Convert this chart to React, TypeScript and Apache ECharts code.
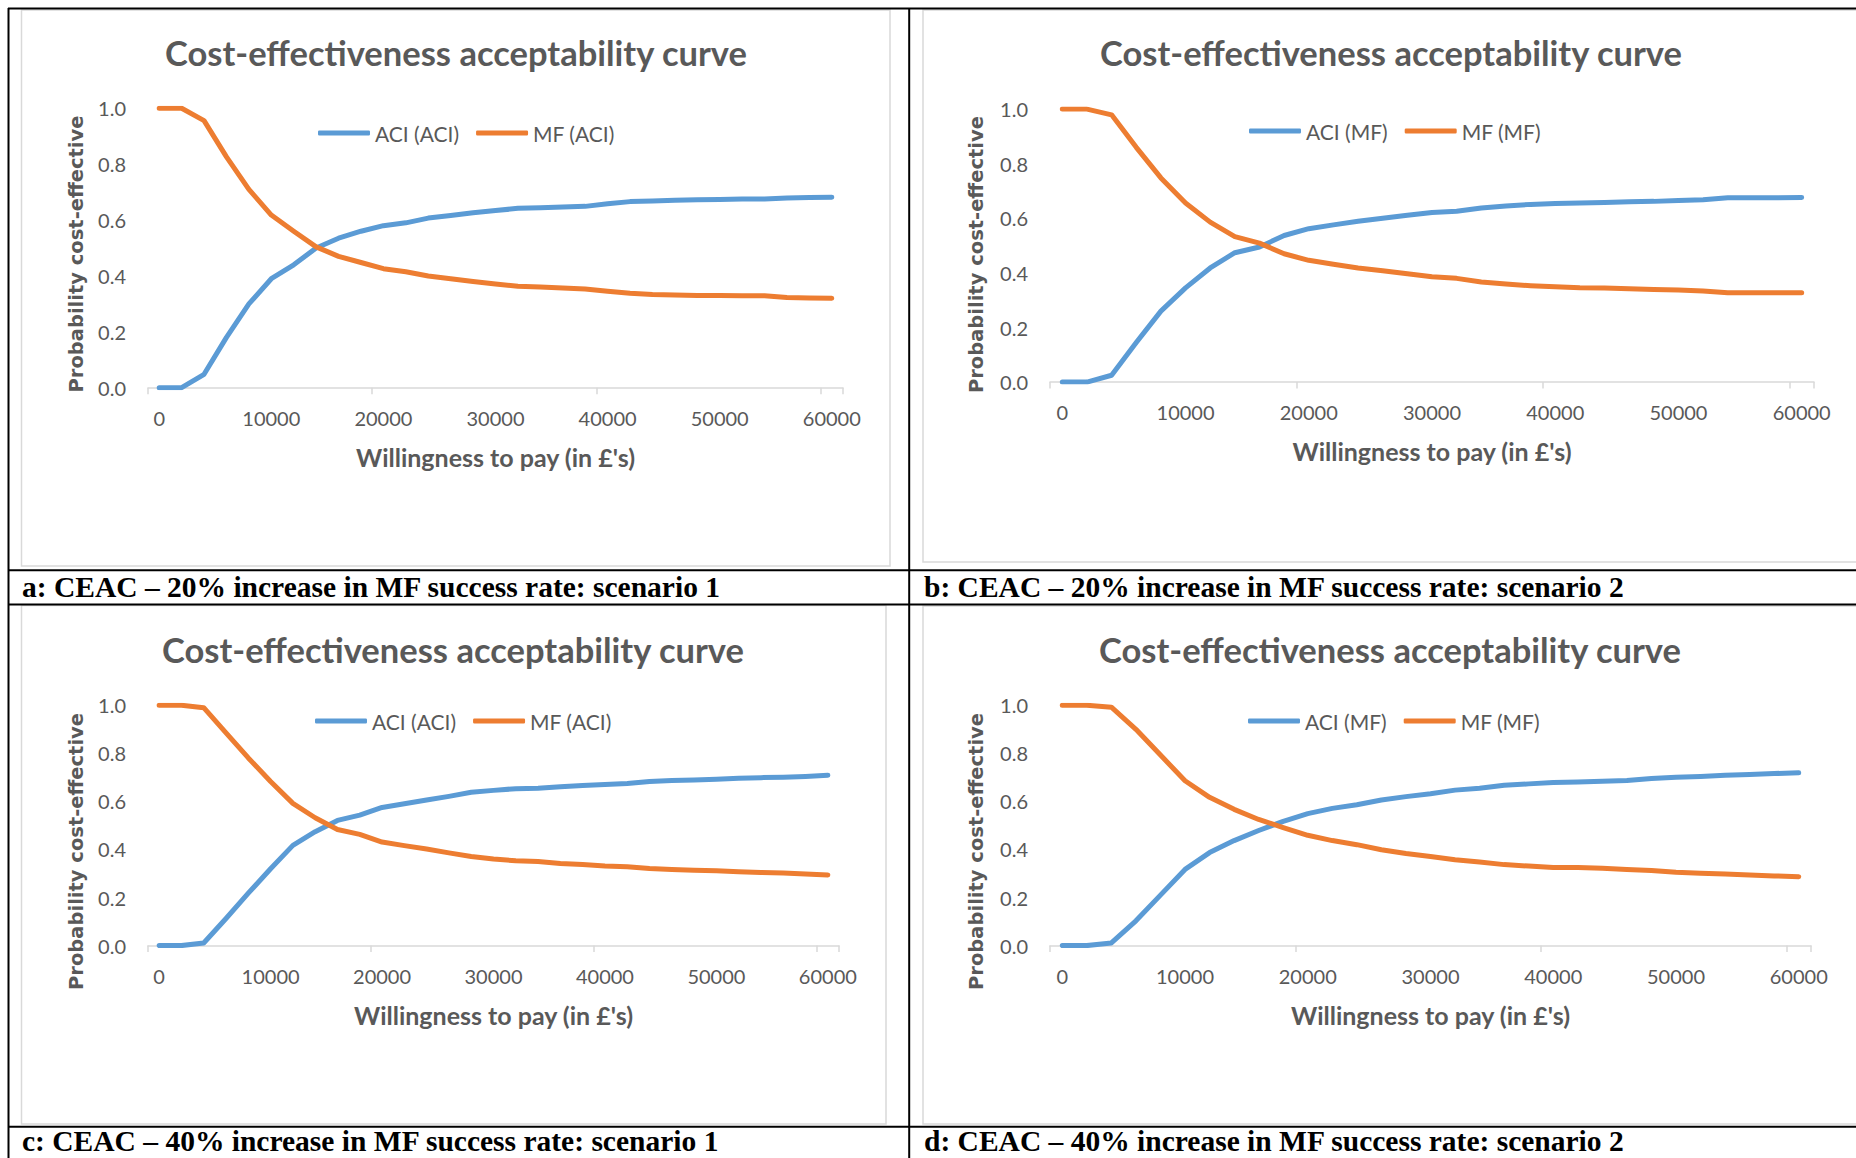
import React, { useEffect, useRef } from "react";
import * as echarts from "echarts";

// Willingness-to-pay categories (£)
const wtp = [
  "0", "2000", "4000", "6000", "8000", "10000", "12000", "14000", "16000", "18000",
  "20000", "22000", "24000", "26000", "28000", "30000", "32000", "34000", "36000", "38000",
  "40000", "42000", "44000", "46000", "48000", "50000", "52000", "54000", "56000", "58000", "60000",
];

const yTicks = [0, 0.2, 0.4, 0.6, 0.8, 1.0];

// a: 20% increase, scenario 1
const aciA = [0, 0, 0.048, 0.18, 0.30, 0.39, 0.44, 0.50, 0.535, 0.56, 0.58, 0.59, 0.607, 0.616, 0.626, 0.634, 0.642, 0.644, 0.647, 0.649, 0.658, 0.666, 0.668, 0.671, 0.673, 0.674, 0.675, 0.675, 0.679, 0.681, 0.682];
const mfA = [1, 1, 0.956, 0.826, 0.71, 0.618, 0.56, 0.504, 0.47, 0.448, 0.426, 0.415, 0.40, 0.39, 0.38, 0.371, 0.363, 0.36, 0.357, 0.353, 0.345, 0.338, 0.334, 0.332, 0.33, 0.33, 0.329, 0.329, 0.323, 0.321, 0.32];
// b: 20% increase, scenario 2
const aciB = [0, 0, 0.025, 0.145, 0.26, 0.345, 0.418, 0.474, 0.495, 0.537, 0.562, 0.576, 0.589, 0.60, 0.611, 0.621, 0.626, 0.638, 0.645, 0.651, 0.654, 0.656, 0.658, 0.661, 0.662, 0.665, 0.668, 0.675, 0.675, 0.675, 0.676];
const mfB = [1, 1, 0.979, 0.86, 0.748, 0.656, 0.586, 0.533, 0.509, 0.47, 0.446, 0.432, 0.418, 0.408, 0.397, 0.386, 0.38, 0.367, 0.359, 0.353, 0.349, 0.346, 0.345, 0.342, 0.339, 0.337, 0.334, 0.327, 0.327, 0.327, 0.327];
// c: 40% increase, scenario 1
const aciC = [0, 0, 0.011, 0.113, 0.218, 0.32, 0.417, 0.474, 0.521, 0.543, 0.575, 0.59, 0.606, 0.621, 0.638, 0.646, 0.653, 0.655, 0.661, 0.666, 0.67, 0.675, 0.683, 0.687, 0.689, 0.692, 0.696, 0.699, 0.701, 0.704, 0.709];
const mfC = [1, 1, 0.99, 0.885, 0.781, 0.683, 0.592, 0.532, 0.483, 0.463, 0.431, 0.416, 0.402, 0.386, 0.371, 0.36, 0.353, 0.35, 0.342, 0.337, 0.331, 0.328, 0.321, 0.317, 0.314, 0.311, 0.307, 0.304, 0.302, 0.298, 0.294];
// d: 40% increase, scenario 2
const aciD = [0, 0, 0.011, 0.103, 0.21, 0.317, 0.387, 0.437, 0.479, 0.517, 0.549, 0.571, 0.586, 0.606, 0.62, 0.632, 0.647, 0.655, 0.667, 0.673, 0.679, 0.681, 0.684, 0.687, 0.695, 0.701, 0.704, 0.709, 0.712, 0.716, 0.719];
const mfD = [1, 1, 0.992, 0.9, 0.793, 0.686, 0.617, 0.567, 0.525, 0.491, 0.459, 0.437, 0.42, 0.399, 0.383, 0.371, 0.357, 0.348, 0.337, 0.331, 0.325, 0.325, 0.322, 0.317, 0.313, 0.305, 0.301, 0.298, 0.294, 0.29, 0.287];

const seriesNamesS1 = ["ACI (ACI)", "MF (ACI)"];
const seriesNamesS2 = ["ACI (MF)", "MF (MF)"];

const captions = [
  "a: CEAC \u2013 20% increase in MF success rate: scenario 1",
  "b: CEAC \u2013 20% increase in MF success rate: scenario 2",
  "c: CEAC \u2013 40% increase in MF success rate: scenario 1",
  "d: CEAC \u2013 40% increase in MF success rate: scenario 2",
];

const TITLE = "Cost-effectiveness acceptability curve";
const X_NAME = "Willingness to pay (in \u00a3's)";
const Y_NAME = "Probability cost-effective";

const BLUE = "#5B9BD5";
const ORANGE = "#ED7D31";
const GREY = "#595959";
const AXIS = "#D9D9D9";
const SANS = "Lato, 'Open Sans', sans-serif";

// layout of each panel (pixels)
const panels = [
  { aci: aciA, mf: mfA, names: seriesNamesS1, grid: { left: 148, top: 108.3, width: 695, height: 279.4 }, titleX: 456, titleY: 52, legendX: 318, legendY: 121, yNameGap: 62, yNameShift: 12 },
  { aci: aciB, mf: mfB, names: seriesNamesS2, grid: { left: 1050, top: 109.1, width: 764, height: 273 }, titleX: 1391, titleY: 52, legendX: 1249, legendY: 119, yNameGap: 64, yNameShift: 18 },
  { aci: aciC, mf: mfC, names: seriesNamesS1, grid: { left: 148, top: 705.3, width: 691, height: 240.3 }, titleX: 453, titleY: 649, legendX: 315, legendY: 709, yNameGap: 62, yNameShift: 52 },
  { aci: aciD, mf: mfD, names: seriesNamesS2, grid: { left: 1050, top: 705.3, width: 761, height: 240.3 }, titleX: 1390, titleY: 649, legendX: 1248, legendY: 709, yNameGap: 64, yNameShift: 52 },
];

const frames = [
  { x: 21.5, y: 10, w: 868.5, h: 556 },
  { x: 923, y: 10, w: 950, h: 552 },
  { x: 21.5, y: 605.5, w: 864.5, h: 518.5 },
  { x: 923, y: 606, w: 950, h: 518 },
];

const captionPos = [
  { x: 22, y: 587 },
  { x: 924, y: 587 },
  { x: 22, y: 1141 },
  { x: 924, y: 1141 },
];

function buildOption() {
  const grid: any[] = [];
  const xAxis: any[] = [];
  const yAxis: any[] = [];
  const series: any[] = [];
  const title: any[] = [];
  const legend: any[] = [];

  panels.forEach((p, i) => {
    grid.push({ ...p.grid, containLabel: false });
    title.push({
      text: TITLE,
      left: p.titleX,
      top: p.titleY,
      textAlign: "center",
      textVerticalAlign: "middle",
      padding: 0,
      textStyle: { fontFamily: SANS, fontWeight: "bold", fontSize: 34.5, color: GREY, lineHeight: 40 },
    });
    legend.push({
      data: p.names,
      left: p.legendX,
      top: p.legendY,
      orient: "horizontal",
      padding: 0,
      itemGap: 17,
      itemWidth: 52,
      itemHeight: 5,
      icon: "roundRect",
      selectedMode: false,
      textStyle: { fontFamily: SANS, fontSize: 21, color: GREY, lineHeight: 24 },
    });
    xAxis.push({
      type: "category",
      gridIndex: i,
      data: wtp,
      boundaryGap: true,
      name: X_NAME,
      nameLocation: "middle",
      nameGap: 55,
      nameTextStyle: { fontFamily: SANS, fontWeight: "bold", fontSize: 25, color: GREY, lineHeight: 28 },
      axisLine: { show: true, lineStyle: { color: AXIS, width: 1.5 } },
      axisTick: { show: true, interval: 9, length: 6.5, lineStyle: { color: AXIS, width: 1.5 } },
      axisLabel: { interval: 4, margin: 20, fontFamily: SANS, fontSize: 20, color: GREY, lineHeight: 20 },
      splitLine: { show: false },
    });
    yAxis.push({
      type: "value",
      gridIndex: i,
      min: yTicks[0],
      max: yTicks[yTicks.length - 1],
      interval: 0.2,
      name: Y_NAME,
      nameLocation: "middle",
      nameGap: p.yNameGap,
      nameRotate: 90,
      nameTextStyle: {
        fontFamily: "'DejaVu Sans', Verdana, sans-serif",
        fontWeight: "bold",
        fontSize: 19.5,
        color: GREY,
        lineHeight: 20,
        padding: [0, p.yNameShift, 0, 0],
      },
      axisLine: { show: false },
      axisTick: { show: false },
      splitLine: { show: false },
      axisLabel: {
        margin: 22,
        fontFamily: SANS,
        fontSize: 20,
        color: GREY,
        formatter: (v: number) => v.toFixed(1),
      },
    });
    series.push({
      name: p.names[0],
      type: "line",
      xAxisIndex: i,
      yAxisIndex: i,
      data: p.aci,
      symbol: "none",
      color: BLUE,
      lineStyle: { color: BLUE, width: 5, cap: "round", join: "round" },
    });
    series.push({
      name: p.names[1],
      type: "line",
      xAxisIndex: i,
      yAxisIndex: i,
      data: p.mf,
      symbol: "none",
      color: ORANGE,
      lineStyle: { color: ORANGE, width: 5, cap: "round", join: "round" },
    });
  });

  const graphics: any[] = [];
  frames.forEach((f) => {
    graphics.push({
      type: "rect",
      silent: true,
      z: -10,
      shape: { x: f.x, y: f.y, width: f.w, height: f.h },
      style: { fill: "#FFFFFF", stroke: AXIS, lineWidth: 1.5 },
    });
  });
  const tableLines = [
    [8, 8.5, 1856, 8.5],
    [8.5, 8, 8.5, 1158],
    [909.2, 8, 909.2, 1158],
    [8, 570.2, 1856, 570.2],
    [8, 604.5, 1856, 604.5],
    [8, 1126.8, 1856, 1126.8],
  ];
  tableLines.forEach((l) => {
    graphics.push({
      type: "line",
      silent: true,
      z: 10,
      shape: { x1: l[0], y1: l[1], x2: l[2], y2: l[3] },
      style: { stroke: "#000000", lineWidth: 2 },
    });
  });
  captions.forEach((c, i) => {
    graphics.push({
      type: "text",
      silent: true,
      z: 10,
      x: captionPos[i].x,
      y: captionPos[i].y,
      style: {
        text: c,
        fill: "#000000",
        font: "bold 29.5px 'Liberation Serif', 'Times New Roman', serif",
        lineHeight: 22,
        textAlign: "left",
        textVerticalAlign: "middle",
      },
    });
  });

  return {
    animation: false,
    backgroundColor: "#FFFFFF",
    title,
    legend,
    grid,
    xAxis,
    yAxis,
    series,
    graphic: { elements: graphics },
  };
}

export default function App() {
  const ref = useRef<HTMLDivElement>(null);
  useEffect(() => {
    if (!ref.current) return;
    const chart = echarts.init(ref.current, undefined, { renderer: "svg" });
    chart.setOption(buildOption() as any);
    return () => chart.dispose();
  }, []);
  return (
    <div
      ref={ref}
      style={{ position: "absolute", left: 0, top: 0, width: 1856, height: 1158, background: "#FFFFFF" }}
    />
  );
}
